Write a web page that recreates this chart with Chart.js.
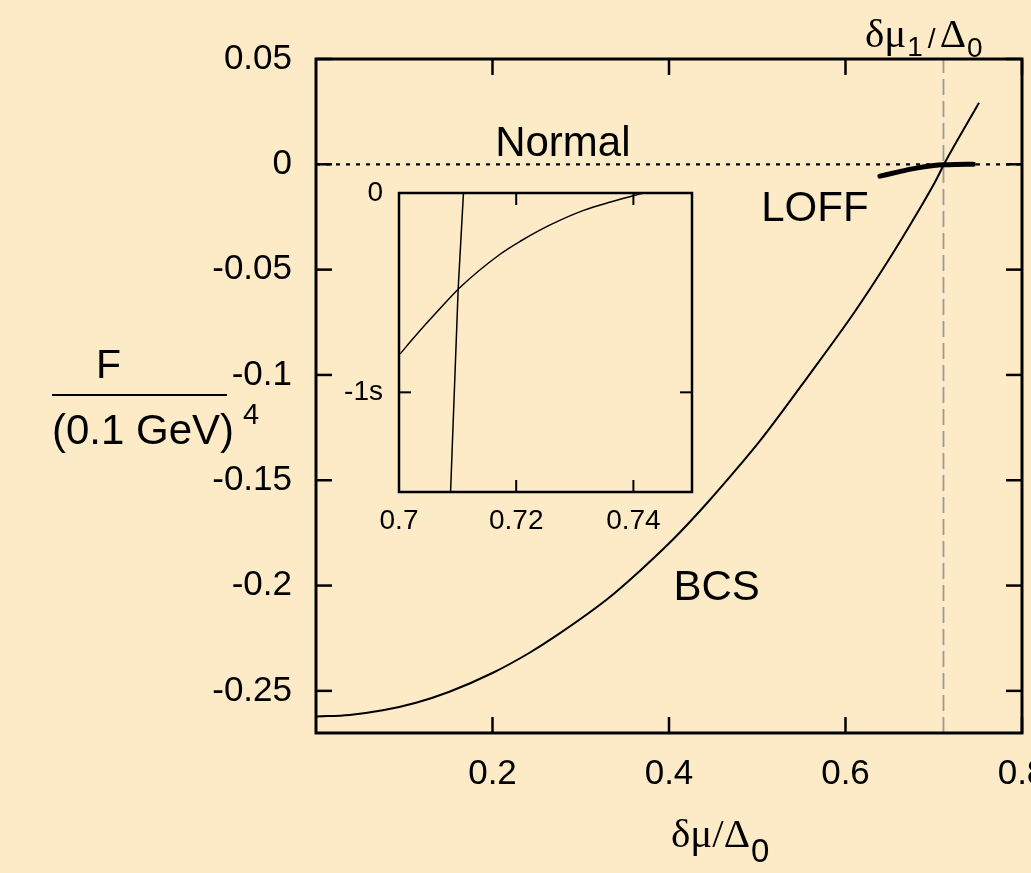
<!DOCTYPE html>
<html><head><meta charset="utf-8">
<script src="https://cdn.jsdelivr.net/npm/chart.js@4"></script>
<style>
html,body{margin:0;padding:0;background:#FDEBC8;overflow:hidden;}
#wrap{position:relative;width:1031px;height:873px;background:#FDEBC8;}
#main{position:absolute;left:0;top:0;}
#inset{position:absolute;left:330px;top:170px;}
</style></head><body>
<div id="wrap"><canvas id="main" width="1031" height="873"></canvas><canvas id="inset" width="400" height="380"></canvas></div>
<script>
// ---------- main panel data ----------
const bcsX = [0, 0.038, 0.0757, 0.1134, 0.1512, 0.2005, 0.2420, 0.2723, 0.3298, 0.3675, 0.4053, 0.4432, 0.4810, 0.5037, 0.5604, 0.6095, 0.6474, 0.6814, 0.7022, 0.7116, 0.7513];
const bcsY = [-0.2622, -0.2614, -0.2592, -0.2556, -0.2504, -0.2414, -0.2319, -0.2238, -0.2065, -0.1928, -0.1778, -0.1608, -0.1425, -0.1310, -0.0991, -0.0706, -0.0464, -0.0230, -0.0078, 0, 0.0292];
const loffX = [0.639, 0.660, 0.680, 0.700, 0.711, 0.725, 0.745];
const loffY = [-0.0056, -0.0036, -0.0018, -0.0006, -0.0002, -0.00003, 0];
const normalX = [0, 0.8];
const normalY = [0, 0];
const dmu1X = [0.711, 0.711];
const dmu1Y = [-0.27, 0.05];
const xTickValues = [0.2, 0.4, 0.6, 0.8];
const xTickLabels = ['0.2', '0.4', '0.6', '0.8'];
const yTickValues = [0.05, 0, -0.05, -0.1, -0.15, -0.2, -0.25];
const yTickLabels = ['0.05', '0', '-0.05', '-0.1', '-0.15', '-0.2', '-0.25'];
const curveLabels = ['Normal', 'LOFF', 'BCS'];
const curveLabelX = [0.203, 0.5045, 0.405];
const curveLabelY = [0.0038, -0.027, -0.2068];

// ---------- inset data ----------
const insLoffX = [0.7002, 0.7030, 0.7070, 0.7104, 0.7173, 0.7207, 0.7258, 0.7315, 0.7361, 0.7401, 0.7418];
const insLoffY = [-0.807, -0.710, -0.580, -0.474, -0.306, -0.242, -0.160, -0.087, -0.045, -0.013, 0];
const insBcsX = [0.7088, 0.7101, 0.7110];
const insBcsY = [-1.5, -0.48, 0];
const insXTickValues = [0.7, 0.72, 0.74];
const insXTickLabels = ['0.7', '0.72', '0.74'];
const insYTickValues = [0, -1];
const insYTickLabels = ['0', '-1s'];

const SANS = '"Liberation Sans", Arial, Helvetica, sans-serif';
const SERIF = '"Liberation Serif", "DejaVu Serif", "Times New Roman", serif';
const pts = (xs, ys) => xs.map((x, i) => ({x, y: ys[i]}));

function line(ctx, x1, y1, x2, y2) { ctx.beginPath(); ctx.moveTo(x1, y1); ctx.lineTo(x2, y2); ctx.stroke(); }

function frameAndTicks(chart, xVals, yVals, len, frameW, tickW) {
  const {ctx, chartArea: a, scales} = chart;
  ctx.save();
  ctx.strokeStyle = '#000';
  ctx.lineCap = 'butt';
  ctx.lineWidth = tickW;
  xVals.forEach(v => {
    const px = scales.x.getPixelForValue(v);
    line(ctx, px, a.bottom, px, a.bottom - len);
    line(ctx, px, a.top, px, a.top + len);
  });
  yVals.forEach(v => {
    const py = scales.y.getPixelForValue(v);
    line(ctx, a.left, py, a.left + len, py);
    line(ctx, a.right, py, a.right - len, py);
  });
  ctx.lineWidth = frameW;
  ctx.strokeRect(a.left, a.top, a.right - a.left, a.bottom - a.top);
  ctx.restore();
}

function setTicks(values) {
  return function (scale) { scale.ticks = values.map(v => ({value: v})); };
}

const mainPlugin = {
  id: 'mainDeco',
  afterDraw(chart) {
    const {ctx, scales} = chart;
    frameAndTicks(chart, xTickValues, yTickValues, 16, 3, 2.5);
    ctx.save();
    ctx.fillStyle = '#000';
    ctx.textAlign = 'left';
    ctx.textBaseline = 'alphabetic';
    // curve labels, placed in data coordinates
    ctx.font = '42px ' + SANS;
    curveLabels.forEach((t, i) => {
      ctx.fillText(t, scales.x.getPixelForValue(curveLabelX[i]), scales.y.getPixelForValue(curveLabelY[i]));
    });
    // y-axis title: F / (0.1 GeV)^4
    ctx.font = '41px ' + SANS;
    ctx.textAlign = 'center';
    ctx.fillText('F', 108.5, 378);
    ctx.textAlign = 'left';
    ctx.font = '42px ' + SANS;
    ctx.fillText('(0.1 GeV)', 52, 444);
    ctx.font = '29px ' + SANS;
    ctx.fillText('4', 243, 424);
    ctx.lineWidth = 2;
    ctx.strokeStyle = '#000';
    line(ctx, 52, 395, 227, 395);
    // x-axis title: δμ/Δ0
    let x = 671;
    ctx.font = '41px ' + SERIF;
    ctx.fillText('δμ/Δ', x, 847);
    x += ctx.measureText('δμ/Δ').width;
    ctx.font = '33px ' + SANS;
    ctx.fillText('0', x + 1, 862);
    // top label: δμ1/Δ0
    x = 865;
    ctx.font = '41px ' + SERIF;
    ctx.fillText('δμ', x, 47);
    x += ctx.measureText('δμ').width;
    ctx.font = '28px ' + SANS;
    ctx.fillText('1', x + 1, 56);
    x += ctx.measureText('1').width + 6;
    ctx.fillText('/', x, 48);
    x += ctx.measureText('/').width + 4;
    ctx.font = '41px ' + SERIF;
    ctx.fillText('Δ', x, 47);
    x += ctx.measureText('Δ').width;
    ctx.font = '28px ' + SANS;
    ctx.fillText('0', x + 1, 57);
    ctx.restore();
  }
};

const insetPlugin = {
  id: 'insetDeco',
  afterDraw(chart) {
    frameAndTicks(chart, insXTickValues, insYTickValues, 12, 2.5, 2);
  }
};

Chart.defaults.animation = false;

new Chart(document.getElementById('main'), {
  type: 'scatter',
  data: {
    datasets: [
      {label: 'LOFF', data: pts(loffX, loffY), showLine: true, borderColor: '#000', borderWidth: 5, pointRadius: 0, cubicInterpolationMode: 'monotone', borderCapStyle: 'round'},
      {label: 'BCS', data: pts(bcsX, bcsY), showLine: true, borderColor: '#000', borderWidth: 2, pointRadius: 0, cubicInterpolationMode: 'monotone'},
      {label: 'Normal', data: pts(normalX, normalY), showLine: true, borderColor: '#000', borderWidth: 2.2, borderDash: [4, 6], pointRadius: 0},
      {label: 'dmu1', data: pts(dmu1X, dmu1Y), showLine: true, borderColor: '#9b9b9b', borderWidth: 1.8, borderDash: [16, 6], pointRadius: 0}
    ]
  },
  options: {
    responsive: false,
    devicePixelRatio: 1,
    animation: false,
    layout: {padding: {left: 0, top: 59, right: 9, bottom: 0}},
    plugins: {legend: {display: false}, tooltip: {enabled: false}},
    scales: {
      x: {
        type: 'linear', min: 0, max: 0.8,
        grid: {display: false, drawTicks: false},
        border: {display: false},
        afterBuildTicks: setTicks(xTickValues),
        afterFit(s) { s.height = 140; s.paddingLeft = 0; s.paddingRight = 0; },
        ticks: {autoSkip: false, maxRotation: 0, padding: 20, color: '#000', font: {family: SANS, size: 35},
          callback: (v, i) => xTickLabels[i]}
      },
      y: {
        type: 'linear', min: -0.27, max: 0.05,
        grid: {display: false, drawTicks: false},
        border: {display: false},
        afterBuildTicks: setTicks(yTickValues),
        afterFit(s) { s.width = 316; s.paddingTop = 0; s.paddingBottom = 0; },
        ticks: {autoSkip: false, padding: 24, color: '#000', font: {family: SANS, size: 35},
          callback: (v, i) => yTickLabels[i]}
      }
    }
  },
  plugins: [mainPlugin]
});

new Chart(document.getElementById('inset'), {
  type: 'scatter',
  data: {
    datasets: [
      {label: 'LOFF', data: pts(insLoffX, insLoffY), showLine: true, borderColor: '#000', borderWidth: 1.5, pointRadius: 0, cubicInterpolationMode: 'monotone'},
      {label: 'BCS', data: pts(insBcsX, insBcsY), showLine: true, borderColor: '#000', borderWidth: 1.5, pointRadius: 0}
    ]
  },
  options: {
    responsive: false,
    devicePixelRatio: 1,
    animation: false,
    layout: {padding: {left: 0, top: 23, right: 38, bottom: 0}},
    plugins: {legend: {display: false}, tooltip: {enabled: false}},
    scales: {
      x: {
        type: 'linear', min: 0.7, max: 0.75,
        grid: {display: false, drawTicks: false},
        border: {display: false},
        afterBuildTicks: setTicks(insXTickValues),
        afterFit(s) { s.height = 58; s.paddingLeft = 0; s.paddingRight = 0; },
        ticks: {autoSkip: false, maxRotation: 0, padding: 12, color: '#000', font: {family: SANS, size: 28},
          callback: (v, i) => insXTickLabels[i]}
      },
      y: {
        type: 'linear', min: -1.5, max: 0,
        grid: {display: false, drawTicks: false},
        border: {display: false},
        afterBuildTicks: setTicks(insYTickValues),
        afterFit(s) { s.width = 69; s.paddingTop = 0; s.paddingBottom = 0; },
        ticks: {autoSkip: false, padding: 16, color: '#000', font: {family: SANS, size: 28},
          callback: (v, i) => insYTickLabels[i]}
      }
    }
  },
  plugins: [insetPlugin]
});
</script>
</body></html>
